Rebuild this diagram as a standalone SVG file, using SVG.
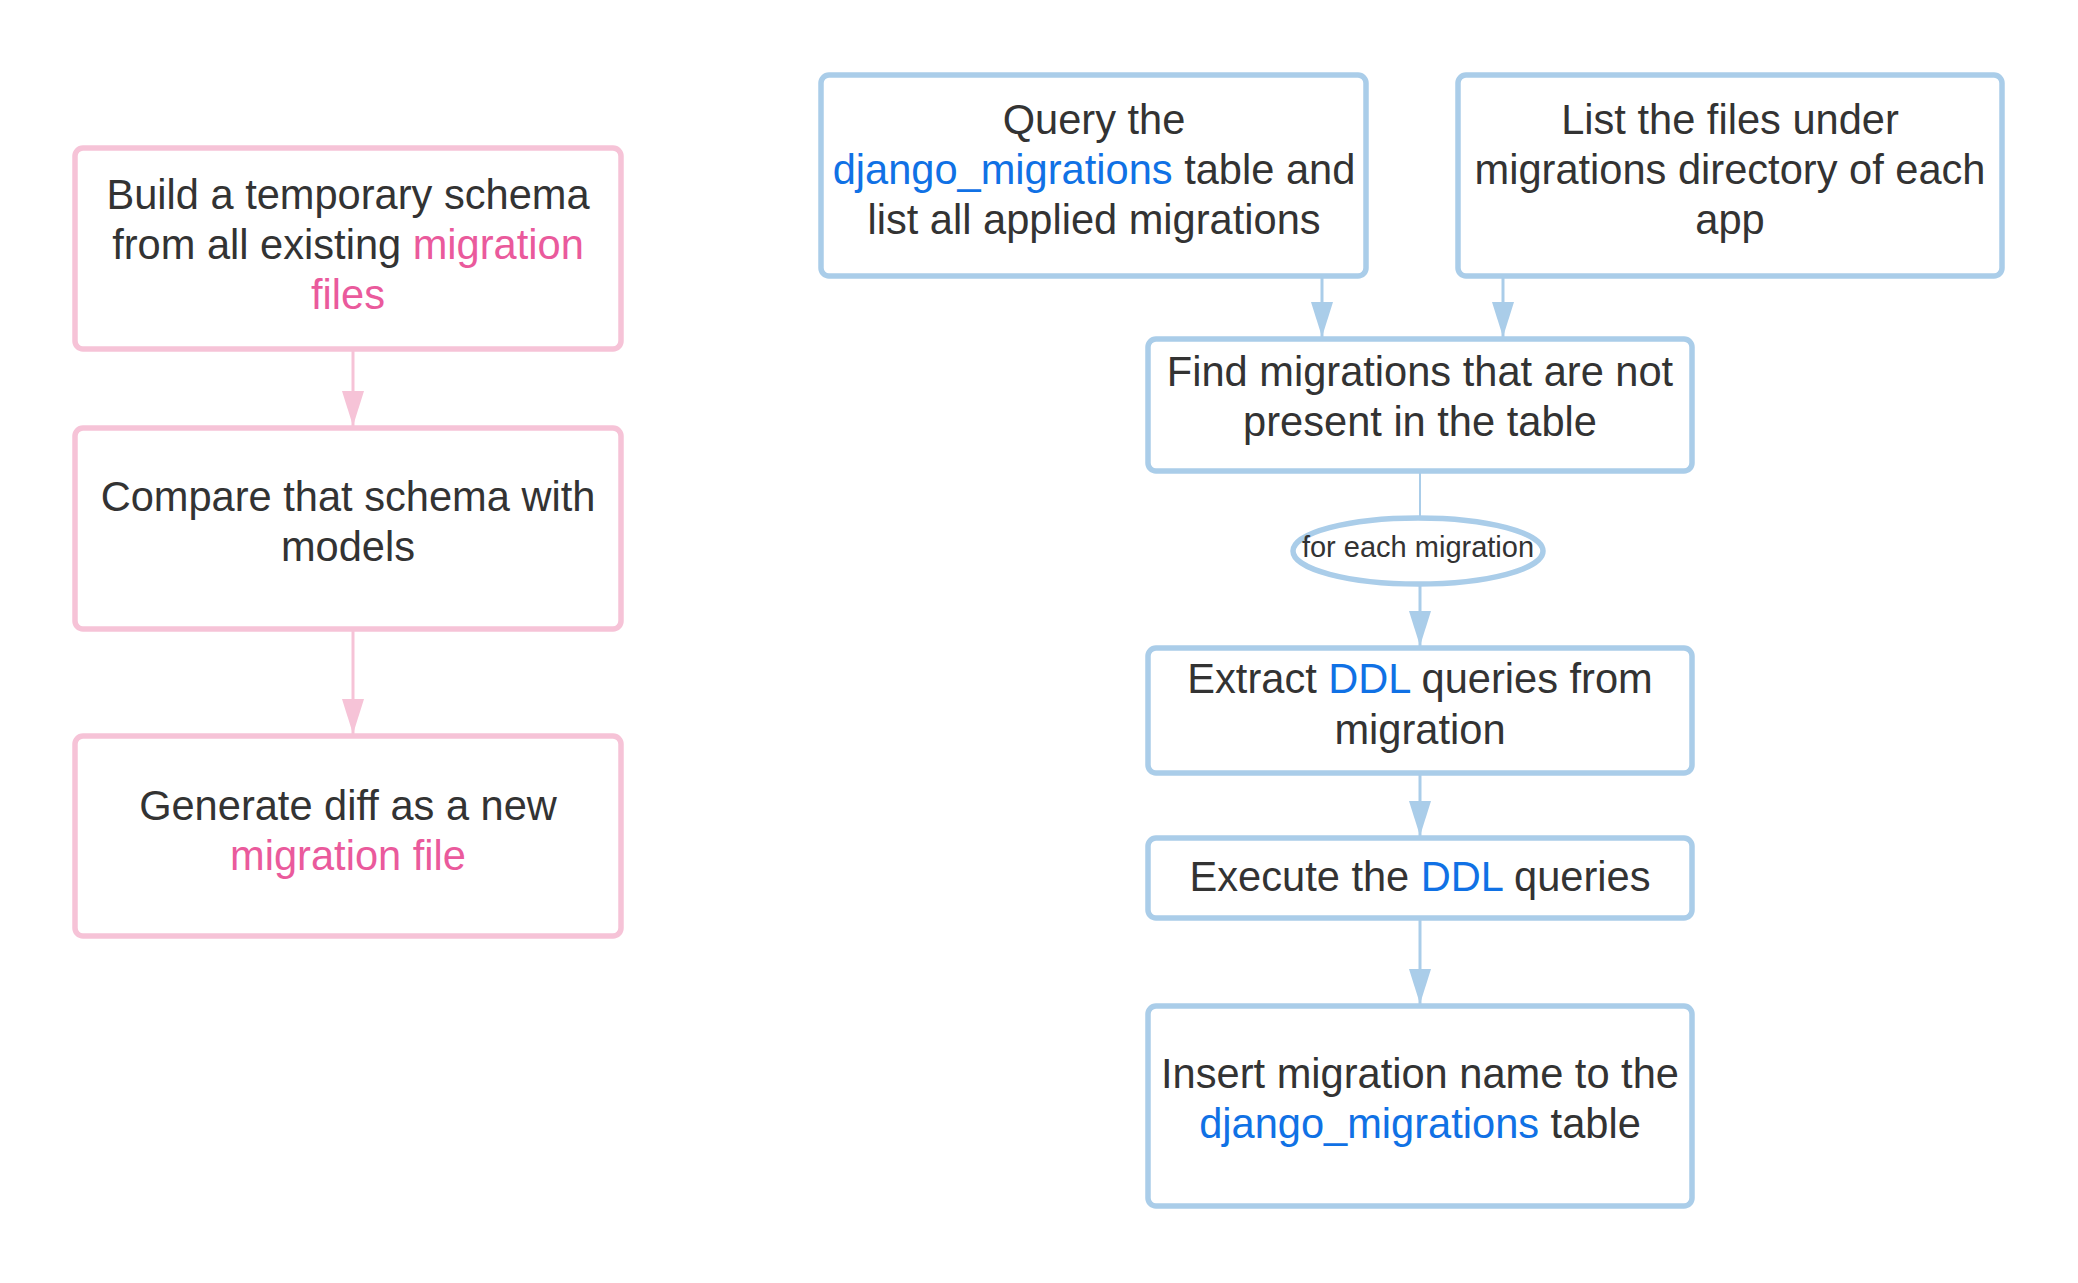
<svg xmlns="http://www.w3.org/2000/svg" width="2078" height="1283" viewBox="0 0 2078 1283">
<style>
.pk{fill:#ffffff;stroke:#f6c3d7;stroke-width:5.5}
.bl{fill:#ffffff;stroke:#aacde9;stroke-width:5.5}
.t{font-family:"Liberation Sans",Arial,sans-serif;font-size:41.6px;fill:#333333;text-anchor:middle}
.s{font-family:"Liberation Sans",Arial,sans-serif;font-size:29px;fill:#333333;text-anchor:middle}
.hp{fill:#ea5a9c}
.hb{fill:#1071e5}
.lp{stroke:#f6c3d7;stroke-width:3;fill:none}
.lb{stroke:#aacde9;stroke-width:3;fill:none}
</style>
<defs>
<marker id="ap" markerUnits="userSpaceOnUse" viewBox="0 0 35 22" markerWidth="35" markerHeight="22" refX="35" refY="11" orient="auto"><path d="M0,0 L35,11 L0,22 z" fill="#f6c3d7"/></marker>
<marker id="ab" markerUnits="userSpaceOnUse" viewBox="0 0 35 22" markerWidth="35" markerHeight="22" refX="35" refY="11" orient="auto"><path d="M0,0 L35,11 L0,22 z" fill="#aacde9"/></marker>
</defs>
<rect width="2078" height="1283" fill="#ffffff"/>
<g id="connectors">
<line class="lp" x1="353" y1="350" x2="353" y2="426" marker-end="url(#ap)"/>
<line class="lp" x1="353" y1="629" x2="353" y2="734" marker-end="url(#ap)"/>
<line class="lb" x1="1322" y1="277" x2="1322" y2="337" marker-end="url(#ab)"/>
<line class="lb" x1="1503" y1="273" x2="1503" y2="337" marker-end="url(#ab)"/>
<line class="lb" x1="1420" y1="472" x2="1420" y2="518" style="stroke-width:2"/>
<line class="lb" x1="1420" y1="585" x2="1420" y2="646" marker-end="url(#ab)"/>
<line class="lb" x1="1420" y1="774" x2="1420" y2="836" marker-end="url(#ab)"/>
<line class="lb" x1="1420" y1="919" x2="1420" y2="1004" marker-end="url(#ab)"/>
</g>
<g id="build">
<rect class="pk" x="75" y="148" width="546" height="201" rx="8"/>
<text class="t" x="348" y="209">Build a temporary schema</text>
<text class="t" x="348" y="259">from all existing <tspan class="hp">migration</tspan></text>
<text class="t hp" x="348" y="309">files</text>
</g>
<g id="compare">
<rect class="pk" x="75" y="428" width="546" height="201" rx="8"/>
<text class="t" x="348" y="511">Compare that schema with</text>
<text class="t" x="348" y="561">models</text>
</g>
<g id="generate">
<rect class="pk" x="75" y="736" width="546" height="200" rx="8"/>
<text class="t" x="348" y="820">Generate diff as a new</text>
<text class="t hp" x="348" y="870">migration file</text>
</g>
<g id="query">
<rect class="bl" x="821" y="75" width="545" height="201" rx="8"/>
<text class="t" x="1094" y="134">Query the</text>
<text class="t" x="1094" y="184"><tspan class="hb">django_migrations</tspan> table and</text>
<text class="t" x="1094" y="234">list all applied migrations</text>
</g>
<g id="list">
<rect class="bl" x="1458" y="75" width="544" height="201" rx="8"/>
<text class="t" x="1730" y="134">List the files under</text>
<text class="t" x="1730" y="184">migrations directory of each</text>
<text class="t" x="1730" y="234">app</text>
</g>
<g id="find">
<rect class="bl" x="1148" y="339" width="544" height="132" rx="8"/>
<text class="t" x="1420" y="386">Find migrations that are not</text>
<text class="t" x="1420" y="436">present in the table</text>
</g>
<g id="loop">
<ellipse class="bl" cx="1418" cy="551" rx="125" ry="33"/>
<text class="s" x="1418" y="557">for each migration</text>
</g>
<g id="extract">
<rect class="bl" x="1148" y="648" width="544" height="125" rx="8"/>
<text class="t" x="1420" y="693">Extract <tspan class="hb">DDL</tspan> queries from</text>
<text class="t" x="1420" y="744">migration</text>
</g>
<g id="execute">
<rect class="bl" x="1148" y="838" width="544" height="80" rx="8"/>
<text class="t" x="1420" y="891">Execute the <tspan class="hb">DDL</tspan> queries</text>
</g>
<g id="insert">
<rect class="bl" x="1148" y="1006" width="544" height="200" rx="8"/>
<text class="t" x="1420" y="1088">Insert migration name to the</text>
<text class="t" x="1420" y="1138"><tspan class="hb">django_migrations</tspan> table</text>
</g>
</svg>
